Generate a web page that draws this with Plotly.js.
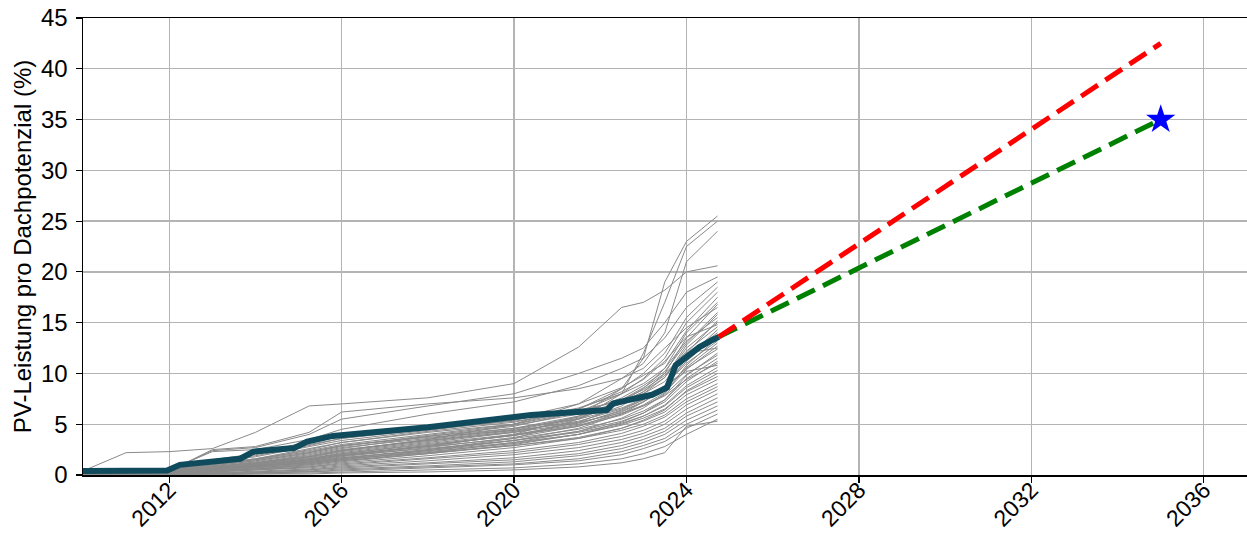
<!DOCTYPE html>
<html>
<head>
<meta charset="utf-8">
<script src="https://cdn.plot.ly/plotly-3.0.1.min.js"></script>
<style>html,body{margin:0;padding:0;background:#fff;}#chart{width:1247px;height:536px;}</style>
</head>
<body>
<div id="chart"></div>
<script>
// Shared sampling dates for the grey municipality curves
const gridDates = ['2010-01-01','2011-01-01','2012-01-01','2013-01-01','2014-01-01','2015-04-01','2016-01-01','2018-01-01','2020-01-01','2021-07-01','2022-07-01','2023-01-01','2023-07-01','2024-01-01','2024-09-20'];

// Grey curves (PV-Leistung pro Dachpotenzial, %)
const grey01 = [0.2,0.2,0.3,0.6,0.9,1.4,1.9,2.8,4.0,5.8,8.5,11.5,19.0,23.0,25.5];
const grey02 = [0.1,0.2,0.3,0.5,0.8,1.2,1.6,2.5,3.6,5.5,8.0,12.0,17.0,22.5,25.0];
const grey03 = [0.2,0.3,0.4,0.8,1.2,1.8,2.4,3.5,5.0,7.0,9.5,11.0,14.0,21.0,24.0];
const grey04 = [0.4,2.2,2.3,2.6,4.2,6.8,7.0,7.6,9.0,12.6,16.5,17.0,18.2,20.0,20.6];
const grey05 = [0.3,0.3,0.4,2.4,2.7,4.0,5.5,6.8,8.0,10.0,11.5,12.5,15.0,18.0,19.5];
const grey06 = [0.3,0.4,0.5,2.3,2.5,3.5,4.5,6.0,7.2,8.8,10.5,11.5,13.5,16.5,19.0];
const grey07 = [0.2,0.3,0.4,1.0,1.5,2.5,3.2,4.2,5.0,6.5,8.5,10.0,12.0,15.5,18.5];
const grey08 = [0.2,0.2,0.3,0.8,1.2,2.0,2.6,3.8,4.8,6.2,8.0,9.5,11.5,15.0,18.0];
const grey09 = [0.3,0.3,0.4,1.4,2.0,3.0,3.6,4.6,5.6,7.0,8.6,9.8,11.0,14.2,17.5];
const grey10 = [0.2,0.2,0.3,0.6,1.0,1.6,2.2,3.2,4.2,5.5,7.2,8.5,10.5,14.0,17.0];
const grey11 = [0.1,0.2,0.2,0.5,0.9,1.4,1.9,2.9,3.9,5.2,6.8,8.2,10.0,13.5,16.8];
const grey12 = [0.3,0.3,0.4,2.5,2.8,4.2,6.2,7.0,7.6,8.5,9.5,10.5,12.5,14.5,16.5];
const grey13 = [0.2,0.3,0.3,0.9,1.4,2.2,2.8,3.9,4.9,6.0,7.6,8.8,10.2,13.0,16.0];
const grey14 = [0.2,0.2,0.3,0.7,1.1,1.8,2.4,3.4,4.4,5.6,7.0,8.0,9.6,12.8,15.8];
const grey15 = [0.3,0.3,0.4,1.2,1.8,2.8,3.4,4.4,5.4,6.6,8.0,9.0,10.5,13.2,15.5];
const grey16 = [0.1,0.1,0.2,0.4,0.7,1.1,1.5,2.4,3.4,4.6,6.0,7.2,8.8,12.0,15.2];
const grey17 = [0.2,0.2,0.3,0.8,1.3,2.1,2.7,3.6,4.6,5.8,7.2,8.2,9.6,12.5,15.0];
const grey18 = [0.2,0.3,0.4,1.1,1.6,2.4,3.0,4.0,5.0,6.2,7.4,8.4,9.8,12.2,14.6];
const grey19 = [0.1,0.2,0.2,0.5,0.8,1.3,1.8,2.7,3.7,4.8,6.2,7.2,8.6,11.5,14.3];
const grey20 = [0.3,0.3,0.4,1.5,2.1,3.3,3.9,4.8,5.6,6.4,7.3,8.0,9.2,11.8,14.0];
const grey21 = [0.2,0.2,0.3,0.7,1.1,1.7,2.3,3.3,4.3,5.3,6.5,7.4,8.8,11.2,13.8];
const grey22 = [0.1,0.1,0.2,0.4,0.6,1.0,1.4,2.2,3.2,4.3,5.6,6.6,8.0,10.8,13.5];
const grey23 = [0.2,0.2,0.3,0.9,1.4,2.2,2.9,3.8,4.6,5.5,6.6,7.5,8.8,11.0,13.2];
const grey24 = [0.2,0.3,0.3,0.8,1.2,1.9,2.5,3.4,4.2,5.1,6.3,7.2,8.4,10.6,13.0];
const grey25 = [0.1,0.2,0.2,0.6,0.9,1.5,2.0,2.9,3.9,4.9,6.0,6.9,8.1,10.4,12.7];
const grey26 = [0.3,0.3,0.4,1.3,1.9,2.9,3.6,4.5,5.3,6.1,7.0,7.6,8.6,10.5,12.4];
const grey27 = [0.1,0.1,0.2,0.3,0.6,0.9,1.3,2.1,3.0,4.0,5.2,6.1,7.4,9.8,12.0];
const grey28 = [0.2,0.2,0.3,0.7,1.0,1.6,2.1,3.0,3.9,4.8,5.9,6.8,7.9,9.9,11.8];
const grey29 = [0.2,0.2,0.3,0.6,1.0,1.5,2.0,2.8,3.6,4.5,5.5,6.3,7.4,9.5,11.5];
const grey30 = [0.1,0.2,0.2,0.5,0.8,1.2,1.7,2.5,3.4,4.3,5.3,6.1,7.2,9.2,11.2];
const grey31 = [0.2,0.3,0.3,1.0,1.5,2.3,2.9,3.7,4.4,5.2,6.1,6.8,7.8,9.4,11.0];
const grey32 = [0.1,0.1,0.2,0.4,0.7,1.1,1.5,2.3,3.1,4.0,5.0,5.8,6.9,8.8,10.6];
const grey33 = [0.2,0.2,0.3,0.6,0.9,1.4,1.9,2.6,3.4,4.2,5.1,5.8,6.8,8.6,10.3];
const grey34 = [0.1,0.1,0.2,0.3,0.5,0.8,1.2,1.9,2.7,3.6,4.6,5.4,6.4,8.3,10.0];
const grey35 = [0.2,0.2,0.3,0.5,0.8,1.3,1.7,2.4,3.2,4.0,4.9,5.6,6.5,8.2,9.7];
const grey36 = [0.1,0.1,0.2,0.4,0.6,1.0,1.4,2.1,2.9,3.7,4.6,5.3,6.2,7.9,9.4];
const grey37 = [0.1,0.2,0.2,0.5,0.8,1.2,1.6,2.2,2.9,3.6,4.4,5.0,5.9,7.5,9.0];
const grey38 = [0.1,0.1,0.1,0.3,0.5,0.8,1.1,1.7,2.4,3.2,4.1,4.8,5.7,7.2,8.7];
const grey39 = [0.1,0.1,0.2,0.3,0.5,0.7,1.0,1.6,2.2,3.0,3.8,4.4,5.3,6.9,8.4];
const grey40 = [0.1,0.1,0.1,0.2,0.4,0.6,0.9,1.4,2.0,2.7,3.5,4.1,5.0,6.5,8.0];
const grey41 = [0.1,0.1,0.1,0.2,0.3,0.5,0.8,1.2,1.7,2.4,3.2,3.8,4.6,6.1,7.6];
const grey42 = [0.0,0.1,0.1,0.2,0.3,0.5,0.7,1.1,1.5,2.1,2.9,3.5,4.3,5.8,7.2];
const grey43 = [0.0,0.0,0.1,0.1,0.2,0.4,0.6,0.9,1.3,1.9,2.6,3.2,4.0,5.4,6.8];
const grey44 = [0.0,0.0,0.1,0.1,0.2,0.3,0.5,0.8,1.1,1.6,2.3,2.9,3.6,5.0,6.4];
const grey45 = [0.0,0.0,0.0,0.1,0.2,0.3,0.4,0.7,1.0,1.4,2.0,2.6,3.3,4.6,6.0];
const grey46 = [0.0,0.0,0.0,0.1,0.1,0.2,0.3,0.5,0.7,1.1,1.6,2.1,2.8,4.0,5.5];
const grey47 = [0.0,0.0,0.0,0.0,0.1,0.1,0.2,0.3,0.5,0.8,1.2,1.6,2.2,4.8,5.3];
const grey48 = [0.2,0.2,0.3,1.0,1.6,2.6,3.2,4.3,5.2,6.5,8.2,9.4,11.2,13.6,14.8];
const grey49 = [0.1,0.2,0.2,0.7,1.1,1.8,2.4,3.5,4.5,5.7,7.4,8.6,10.0,12.0,12.5];
const grey50 = [0.2,0.2,0.3,0.6,1.0,1.6,2.1,3.1,4.0,5.0,6.4,7.4,8.8,10.2,10.8];

const greySeries = [grey01,grey02,grey03,grey04,grey05,grey06,grey07,grey08,grey09,grey10,
  grey11,grey12,grey13,grey14,grey15,grey16,grey17,grey18,grey19,grey20,
  grey21,grey22,grey23,grey24,grey25,grey26,grey27,grey28,grey29,grey30,
  grey31,grey32,grey33,grey34,grey35,grey36,grey37,grey38,grey39,grey40,
  grey41,grey42,grey43,grey44,grey45,grey46,grey47,grey48,grey49,grey50];

// Highlighted curve
const mainDates = ['2010-01-01','2011-12-15','2012-04-01','2012-11-25','2013-08-25','2013-12-15','2014-11-25','2015-03-15','2015-10-20','2018-01-01','2019-09-15','2020-05-25','2022-02-25','2022-04-20','2023-03-15','2023-07-20','2023-10-01','2024-01-01','2024-04-20','2024-08-08','2024-10-01'];
const mainValues = [0.4,0.45,1.0,1.3,1.6,2.3,2.65,3.3,3.85,4.7,5.5,5.9,6.4,7.05,7.9,8.6,10.8,11.6,12.6,13.3,13.6];

// Projections
const projDates = ['2024-10-01','2035-01-01'];
const trendRed = [13.6, 42.5];
const targetGreen = [13.6, 35.0];
const targetDate = ['2035-01-01'];
const targetValue = [35.0];

// Axis ticks
const xTickVals = ['2012-01-01','2016-01-01','2020-01-01','2024-01-01','2028-01-01','2032-01-01','2036-01-01'];
const xTickText = ['2012','2016','2020','2024','2028','2032','2036'];
const yTitle = 'PV-Leistung pro Dachpotenzial (%)';

const traces = [];
greySeries.forEach(s => traces.push({
  x: gridDates, y: s, type: 'scatter', mode: 'lines',
  line: {color: '#8a8a8a', width: 1}, hoverinfo: 'skip', showlegend: false
}));
traces.push({x: mainDates, y: mainValues, type: 'scatter', mode: 'lines',
  line: {color: '#0f4b5c', width: 6}, showlegend: false});
traces.push({x: projDates, y: targetGreen, type: 'scatter', mode: 'lines',
  line: {color: '#008000', width: 5, dash: '20px,9px'}, showlegend: false});
traces.push({x: projDates, y: trendRed, type: 'scatter', mode: 'lines',
  line: {color: '#ff0000', width: 5, dash: '20px,9px'}, showlegend: false});
traces.push({x: targetDate, y: targetValue, type: 'scatter', mode: 'markers',
  marker: {symbol: 'star', size: 22, color: '#0000ff', line: {width: 0}}, showlegend: false});

const fontFam = '"Liberation Sans", Arial, sans-serif';
const fs = 24;
const layout = {
  width: 1247, height: 536,
  margin: {l: 83, r: 0, t: 18, b: 61},
  paper_bgcolor: '#ffffff', plot_bgcolor: '#ffffff',
  font: {family: fontFam, size: fs, color: '#000'},
  xaxis: {
    type: 'date', range: ['2010-01-01','2037-01-01'],
    tickvals: xTickVals, ticktext: xTickText, tickangle: -45,
    ticks: 'outside', ticklen: 6, tickwidth: 1.2, tickcolor: '#000',
    ticklabelstandoff: -15,
    showgrid: true, gridcolor: '#b4b4b4', gridwidth: 1.3,
    showline: true, linecolor: '#000', linewidth: 1.5, mirror: true,
    zeroline: false, automargin: false, tickfont: {size: 23, family: fontFam, color: '#000'}
  },
  yaxis: {
    range: [0, 45], tickvals: [0,5,10,15,20,25,30,35,40,45],
    ticks: 'outside', ticklen: 6, tickwidth: 1.2, tickcolor: '#000',
    ticklabelstandoff: 3,
    showgrid: true, gridcolor: '#b4b4b4', gridwidth: 1.3,
    showline: true, linecolor: '#000', linewidth: 1.5,
    zeroline: false, automargin: false, tickfont: {size: fs, family: fontFam, color: '#000'},
    title: {text: yTitle, font: {size: fs, family: fontFam, color: '#000'}, standoff: 2}
  }
};
Plotly.newPlot('chart', traces, layout, {displayModeBar: false, staticPlot: true});
</script>
</body>
</html>
